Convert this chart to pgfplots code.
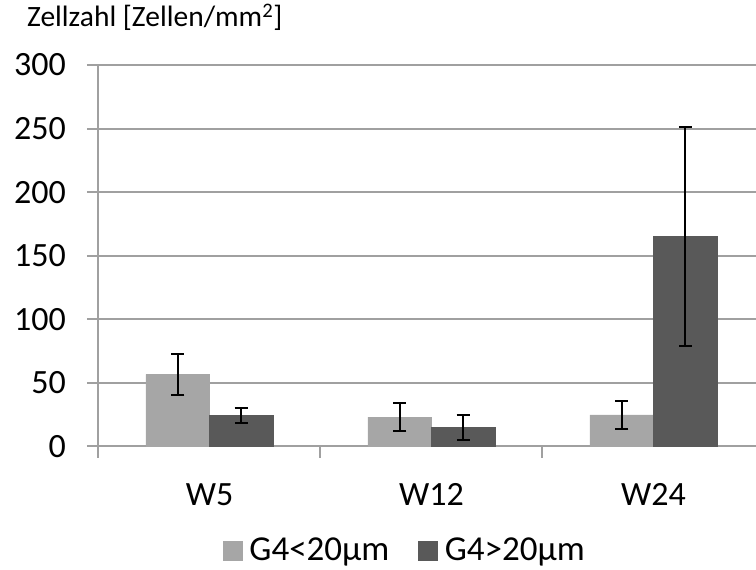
\documentclass[border=0pt]{standalone}
\usepackage{pgfplots}
\pgfplotsset{compat=1.18}
\usepackage{fontspec}
\setmainfont{Carlito}
\definecolor{lightbar}{HTML}{A6A6A6}
\definecolor{darkbar}{HTML}{595959}
\definecolor{gridc}{HTML}{A0A0A0}
\begin{document}
\begin{tikzpicture}[x=1pt,y=1pt]
\clip (0,0) rectangle (756,570);
\path[use as bounding box] (0,0) rectangle (756,570);
\begin{axis}[
  at={(98.5pt,123.5pt)}, anchor=origin,
  scale only axis, width=666pt, height=381.5pt,
  xmin=0, xmax=3, ymin=0, ymax=300,
  ybar=0pt, bar width=63.5pt,
  axis line style={gridc, line width=2pt},
  axis x line*=bottom, axis y line*=left,
  xtick={0,1,2,3}, x tick label as interval,
  xticklabels={W5,W12,W24},
  ytick={0,50,...,300},
  ymajorgrids, major grid style={gridc, line width=2pt},
  tick align=outside, major tick length=11.5pt,
  tick style={gridc, line width=2pt},
  /pgf/number format/assume math mode=true,
  tick label style={font=\fontsize{34}{40}\selectfont, text=black, inner sep=0pt},
  yticklabel style={xshift=-21pt},
  xticklabel style={yshift=-25pt},
  title={Zellzahl [Zellen/mm\textsuperscript{2}]},
  title style={at={(-0.1074,1.0839)}, anchor=base west, inner sep=0pt, font=\fontsize{29.5}{34}\selectfont},
  legend columns=2,
  legend style={draw=none, fill=none, at={(0.46,-0.272)}, anchor=center, font=\fontsize{35}{40}\selectfont,
    inner sep=0pt, nodes={inner ysep=0pt},
    /tikz/every odd column/.append style={column sep=5pt},
    /tikz/every even column/.append style={column sep=27pt}},
  legend image code/.code={\fill[#1] (0pt,-10pt) rectangle (19pt,9pt);},
  error bars/y dir=both, error bars/y explicit,
  error bars/error bar style={black, line width=2pt},
  error bars/error mark options={black, line width=2pt, mark size=6.5pt, rotate=90},
]
\addplot[fill=lightbar, draw=lightbar] coordinates {
  (0.5,56.7) +- (0,16)
  (1.5,23.0) +- (0,11)
  (2.5,24.8) +- (0,11)
};
\addplot[fill=darkbar, draw=darkbar] coordinates {
  (0.5,24.3) +- (0,5.8)
  (1.5,15.0) +- (0,9.5)
  (2.5,165.0) +- (0,86)
};
\legend{G4<20µm, G4>20µm}
\end{axis}
\end{tikzpicture}
\end{document}
